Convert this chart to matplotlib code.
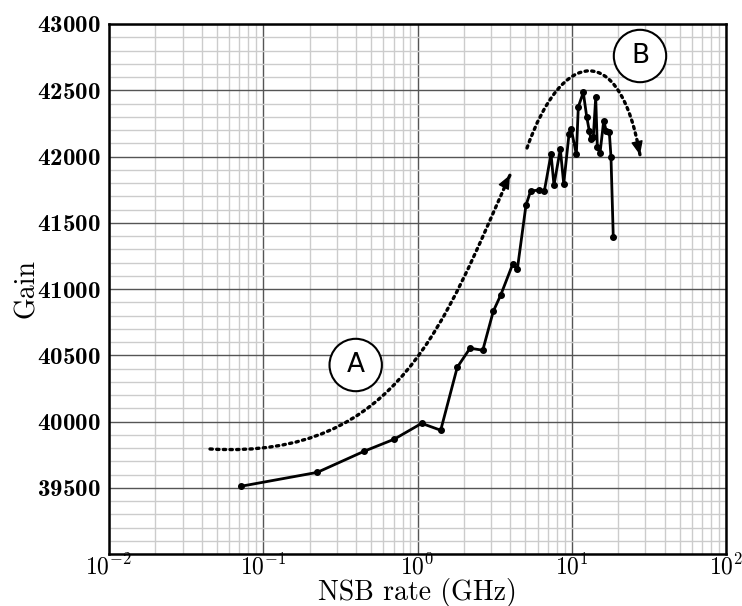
import numpy as np
import matplotlib
matplotlib.use('Agg')
import matplotlib.pyplot as plt
from matplotlib.ticker import MultipleLocator, LogLocator, NullFormatter
from matplotlib.path import Path
from matplotlib.patches import FancyArrowPatch

# 数据：NSB rate (GHz) 与 Gain
nsb_rate = [0.0715, 0.224, 0.450, 0.705, 1.064, 1.414, 1.81, 2.19, 2.65, 3.10,
            3.46, 4.14, 4.44, 5.05, 5.42, 6.16, 6.64, 7.34, 7.67, 8.43,
            8.87, 9.60, 9.93, 10.71, 11.03, 11.88, 12.50, 13.00, 13.33, 13.80,
            14.30, 14.65, 15.24, 16.11, 16.75, 17.51, 17.96, 18.59]
gain = [39511, 39616, 39775, 39866, 39986, 39934, 40409, 40553, 40538, 40832,
        40953, 41187, 41150, 41633, 41741, 41746, 41739, 42018, 41784, 42056,
        41794, 42169, 42205, 42016, 42375, 42484, 42300, 42192, 42129, 42149,
        42446, 42073, 42023, 42270, 42192, 42187, 41998, 41389]

x_range = [1e-2, 1e2]
y_range = [39000, 43000]
y_ticks = [39500, 40000, 40500, 41000, 41500, 42000, 42500, 43000]

plt.rcParams['font.family'] = 'cmr10'
plt.rcParams['mathtext.fontset'] = 'cm'
plt.rcParams['axes.formatter.use_mathtext'] = True

fig = plt.figure(figsize=(7.42, 6.06), dpi=100)
ax = fig.add_axes([109 / 742, 1 - 554 / 606, 617 / 742, 530 / 606])


def frac(px, py):
    # 画布像素 -> 坐标轴比例（只用于注释图形的位置）
    return ((px - 109) / 617, 1 - (py - 24) / 530)


ax.plot(nsb_rate, gain, color='black', lw=2, marker='o', ms=4, zorder=5)

ax.set_xscale('log')
ax.set_xlim(*x_range)
ax.set_ylim(*y_range)
ax.set_yticks(y_ticks)
ax.yaxis.set_minor_locator(MultipleLocator(100))
ax.xaxis.set_minor_locator(LogLocator(base=10, subs=np.arange(2, 10)))
ax.xaxis.set_minor_formatter(NullFormatter())

# 网格：主网格深灰，次网格浅灰
ax.grid(which='major', color='#555555', lw=1.0)
ax.grid(which='minor', color='#cccccc', lw=1.0)
ax.set_axisbelow(True)

for s in ax.spines.values():
    s.set_linewidth(1.8)

ax.tick_params(which='both', length=0)
ax.tick_params(axis='x', labelsize=17, pad=0)
ax.tick_params(axis='y', pad=6)
for lab in ax.get_yticklabels():
    lab.set_fontfamily('cmb10')
    lab.set_fontsize(18)

ax.set_xlabel('NSB rate (GHz)', fontsize=20, labelpad=-1)
ax.set_ylabel('Gain', fontsize=20, labelpad=-2)

# 点线箭头 A、B（三次贝塞尔曲线 + 实心箭头）
dots = (0, (0.7, 1.3))
codes = [Path.MOVETO, Path.CURVE4, Path.CURVE4, Path.CURVE4]
curves = [
    ([(210, 449), (400, 460), (445, 320), (510, 175)], (505.4, 183.9)),
    ([(527, 148), (562, 48), (620, 40), (640, 155)], (637.8, 145.2)),
]
for pts, back in curves:
    ax.add_patch(FancyArrowPatch(path=Path([frac(*p) for p in pts], codes),
                                 transform=ax.transAxes, arrowstyle='-',
                                 lw=2.4, linestyle=dots, color='black', zorder=4))
    ax.annotate('', xy=frac(*pts[-1]), xytext=frac(*back),
                xycoords='axes fraction', textcoords='axes fraction',
                arrowprops=dict(arrowstyle='-|>,head_length=0.7,head_width=0.3',
                                lw=1, color='black', mutation_scale=12,
                                shrinkA=0, shrinkB=0), zorder=4)

circ = dict(boxstyle='circle,pad=0.5', fc='white', ec='black', lw=1.5)
ax.text(*frac(355.7, 365), 'A', transform=ax.transAxes, ha='center', va='center',
        fontsize=19, family='DejaVu Sans', bbox=circ, zorder=6)
ax.text(*frac(640, 56), 'B', transform=ax.transAxes, ha='center', va='center',
        fontsize=19, family='DejaVu Sans', bbox=circ, zorder=6)

fig.savefig('out.png', dpi=100)
